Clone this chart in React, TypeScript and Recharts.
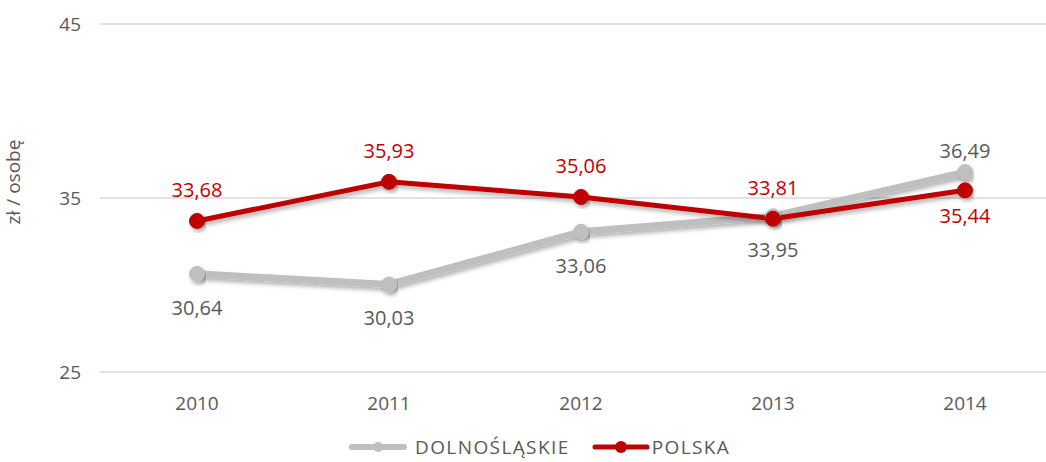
import React from "react";
import { LineChart, Line, XAxis, YAxis, CartesianGrid, Legend, LabelList } from "recharts";

const years = ["2010", "2011", "2012", "2013", "2014"];
const dolnoslaskie = [30.64, 30.03, 33.06, 33.95, 36.49];
const polska = [33.68, 35.93, 35.06, 33.81, 35.44];
const yTicks = [25, 35, 45];

const data = years.map((year, i) => ({
  year,
  dolnoslaskie: dolnoslaskie[i],
  polska: polska[i],
}));

const FONT = "'Open Sans', sans-serif";
const GRAY = "#BFBFBF";
const RED = "#C00000";
const TEXT = "#595959";

const fmt = (v: number) => v.toFixed(2).replace(".", ",");

// gray labels sit below the point, red above; the last year swaps them
function makeLabel(color: string, aboveWhenLast: boolean) {
  return (props: any) => {
    const { x, y, value, index } = props;
    const last = index === years.length - 1;
    const above = last ? aboveWhenLast : !aboveWhenLast;
    let dy = above ? -24 : 41;
    if (last) dy = above ? -14 : 33;
    return (
      <text x={x} y={y + dy} textAnchor="middle" fill={color} fontSize={20} fontFamily={FONT}>
        {fmt(value)}
      </text>
    );
  };
}

function YLabel(props: any) {
  const cy = props.viewBox ? props.viewBox.y + props.viewBox.height / 2 - 16 : 182;
  return (
    <text
      x={20}
      y={cy}
      transform={`rotate(-90 20 ${cy})`}
      textAnchor="middle"
      fill={TEXT}
      fontSize={19}
      fontFamily={FONT}
    >
      zł / osobę
    </text>
  );
}

function LegendContent() {
  const item = (color: string, label: string, w: number, r: number, gap: number, after: number) => (
    <div style={{ display: "flex", alignItems: "center", marginRight: after }}>
      <svg width={58} height={16} style={{ display: "block" }}>
        <line x1={3} y1={8} x2={55} y2={8} stroke={color} strokeWidth={w} strokeLinecap="round" />
        <circle cx={29} cy={8} r={r} fill={color} />
      </svg>
      <span style={{ color: TEXT, fontSize: 19, marginLeft: gap, letterSpacing: 1.4, lineHeight: "22px" }}>
        {label}
      </span>
    </div>
  );
  return (
    <div style={{ display: "flex", fontFamily: FONT, paddingLeft: 349, paddingTop: 14 }}>
      {item(GRAY, "DOLNOŚLĄSKIE", 6, 5, 8, 22)}
      {item(RED, "POLSKA", 5, 6, 2, 0)}
    </div>
  );
}

export default function App() {
  return (
    <div style={{ position: "absolute", left: 0, top: 0, width: 1046, height: 462, background: "#fff" }}>
      <LineChart width={1046} height={462} data={data} margin={{ top: 24, right: 0, left: 0, bottom: 0 }}>
        <defs>
          <filter id="shadow" x="-10%" y="-30%" width="120%" height="160%">
            <feDropShadow dx={2} dy={3} stdDeviation={2} floodColor="#000" floodOpacity={0.3} />
          </filter>
        </defs>
        <CartesianGrid vertical={false} stroke="#D9D9D9" strokeWidth={1.3} />
        <XAxis
          dataKey="year"
          axisLine={false}
          tickLine={false}
          tickSize={0}
          tickMargin={25}
          height={50}
          padding={{ left: 97, right: 81 }}
          tick={{ fill: TEXT, fontSize: 19, fontFamily: FONT }}
        />
        <YAxis
          domain={[25, 45]}
          ticks={yTicks}
          width={100}
          axisLine={false}
          tickLine={false}
          tickSize={0}
          tickMargin={19}
          tick={{ fill: TEXT, fontSize: 19, fontFamily: FONT }}
          label={<YLabel />}
        />
        <Legend verticalAlign="bottom" height={40} content={<LegendContent />} />
        <Line
          dataKey="dolnoslaskie"
          name="DOLNOŚLĄSKIE"
          stroke={GRAY}
          strokeWidth={7}
          dot={{ r: 7.5, fill: GRAY, stroke: GRAY, strokeWidth: 1 }}
          filter="url(#shadow)"
          isAnimationActive={false}
        >
          <LabelList dataKey="dolnoslaskie" content={makeLabel(TEXT, true)} />
        </Line>
        <Line
          dataKey="polska"
          name="POLSKA"
          stroke={RED}
          strokeWidth={5}
          dot={{ r: 7.5, fill: RED, stroke: RED, strokeWidth: 1 }}
          filter="url(#shadow)"
          isAnimationActive={false}
        >
          <LabelList dataKey="polska" content={makeLabel(RED, false)} />
        </Line>
      </LineChart>
    </div>
  );
}
